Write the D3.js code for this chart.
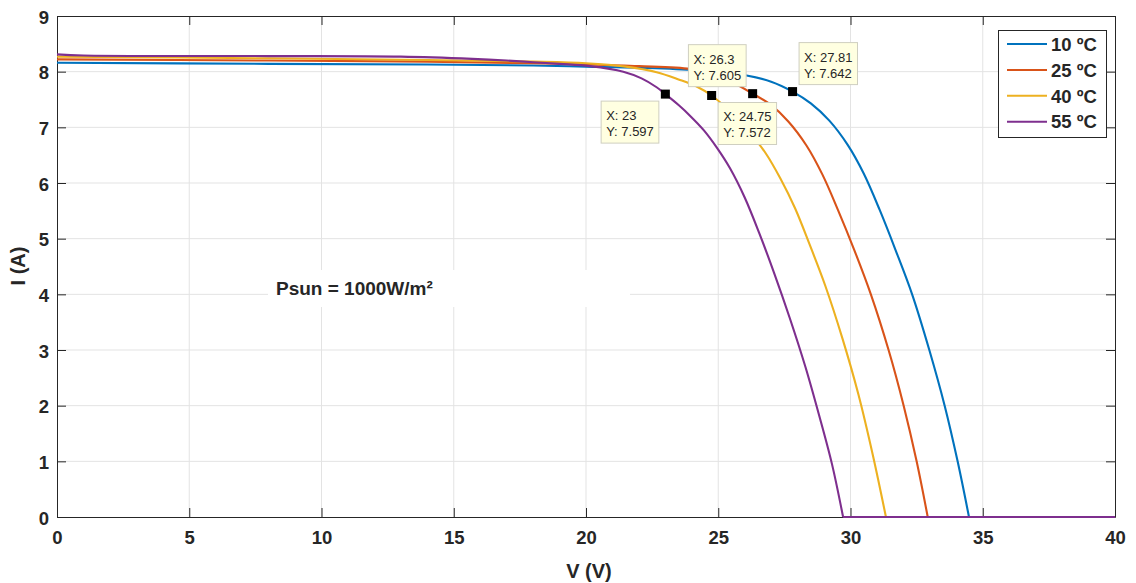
<!DOCTYPE html>
<html>
<head>
<meta charset="utf-8">
<script src="https://cdn.jsdelivr.net/npm/d3@7"></script>
<style>
  html, body { margin: 0; padding: 0; background: #fff; }
  svg { display: block; }
  text { font-family: "Liberation Sans", Arial, Helvetica, sans-serif; fill: #262626; }
</style>
</head>
<body>
<svg id="chart" width="1136" height="583"></svg>
<script>
// I-V characteristic of a PV module at 1000 W/m² for four cell temperatures.
const seriesNames = ["10 ºC", "25 ºC", "40 ºC", "55 ºC"];

// [V, I] samples for each temperature
const curve10 = [[0, 8.16], [8, 8.14], [14, 8.13], [18, 8.11], [20, 8.09], [22, 8.07], [24, 8.03], [25, 7.99],
  [26.07, 7.93], [27.0, 7.82], [27.81, 7.642], [28.5, 7.43], [29.2, 7.12], [29.9, 6.68], [30.5, 6.17],
  [31.1, 5.52], [31.7, 4.8], [32.33, 4.0], [32.98, 3.0], [33.56, 2.0], [34.05, 1.0], [34.48, 0], [40, 0]];
const curve25 = [[0, 8.22], [8, 8.20], [14, 8.18], [18, 8.15], [20, 8.13], [22, 8.10], [23.93, 8.05], [24.6, 7.98],
  [25.4, 7.84], [26.3, 7.605], [26.94, 7.42], [27.64, 7.11], [28.34, 6.67], [28.94, 6.15], [29.54, 5.5],
  [30.14, 4.8], [30.77, 4.0], [31.44, 3.0], [32.01, 2.0], [32.5, 1.0], [32.92, 0], [40, 0]];
const curve40 = [[0, 8.27], [8, 8.24], [14, 8.21], [18, 8.18], [20, 8.15], [21.5, 8.09], [22.67, 7.99],
  [23.5, 7.86], [24.2, 7.73], [24.75, 7.572], [25.57, 7.23], [26.2, 6.9], [26.8, 6.53], [27.35, 6.08],
  [27.9, 5.55], [28.45, 4.9], [29.05, 4.15], [29.7, 3.2], [30.3, 2.2], [30.85, 1.1], [31.34, 0], [40, 0]];
const curve55 = [[0, 8.31], [1, 8.29], [8, 8.28], [13, 8.27], [15.7, 8.23], [17, 8.20], [18, 8.17], [19, 8.14],
  [20.15, 8.10], [21.41, 8.0], [22.1, 7.88], [22.67, 7.72], [23.0, 7.597], [23.5, 7.40], [23.93, 7.21],
  [24.45, 6.95], [24.94, 6.64], [25.45, 6.26], [26.0, 5.74], [26.55, 5.1], [27.1, 4.4], [27.7, 3.58],
  [28.3, 2.69], [28.8, 1.85], [29.3, 0.95], [29.72, 0], [40, 0]];

// Data tips
const tipV = [23, 24.75, 26.3, 27.81];
const tipI = [7.597, 7.572, 7.605, 7.642];

const vTicks = [0, 5, 10, 15, 20, 25, 30, 35, 40];
const iTicks = [0, 1, 2, 3, 4, 5, 6, 7, 8, 9];

const colors = ["#0072BD", "#D95319", "#EDB120", "#7E2F8E"];
const curves = [curve10, curve25, curve40, curve55];

const svg = d3.select("#chart");
const L = 57, R = 1115, T = 16, B = 517;
const x = d3.scaleLinear().domain([0, 40]).range([L, R]);
const y = d3.scaleLinear().domain([0, 9]).range([B, T]);
const axisColor = "#262626";

// grid
const grid = svg.append("g");
grid.selectAll("line.gx").data(vTicks.slice(1, -1)).join("line")
  .attr("x1", d => x(d)).attr("x2", d => x(d)).attr("y1", T).attr("y2", B)
  .attr("stroke", "#e3e3e3").attr("stroke-width", 1);
grid.selectAll("line.gy").data(iTicks.slice(1, -1)).join("line")
  .attr("x1", L).attr("x2", R).attr("y1", d => y(d)).attr("y2", d => y(d))
  .attr("stroke", "#e3e3e3").attr("stroke-width", 1);

// white background behind the irradiance note
svg.append("rect").attr("x", 268).attr("y", 270).attr("width", 362).attr("height", 37).attr("fill", "#fff");
svg.append("text").attr("x", 276).attr("y", 295)
  .attr("font-size", 19).attr("font-weight", "bold").text("Psun = 1000W/m²");

// axes with inward ticks on all four sides
const tl = 9;
const axB = svg.append("g").attr("transform", `translate(0,${B})`)
  .call(d3.axisBottom(x).tickValues(vTicks).tickSizeInner(-tl).tickSizeOuter(0).tickPadding(14));
const axT = svg.append("g").attr("transform", `translate(0,${T})`)
  .call(d3.axisTop(x).tickValues(vTicks).tickSizeInner(-tl).tickSizeOuter(0).tickFormat(""));
const axL = svg.append("g").attr("transform", `translate(${L},0)`)
  .call(d3.axisLeft(y).tickValues(iTicks).tickSizeInner(-tl).tickSizeOuter(0).tickPadding(8));
const axR = svg.append("g").attr("transform", `translate(${R},0)`)
  .call(d3.axisRight(y).tickValues(iTicks).tickSizeInner(-tl).tickSizeOuter(0).tickFormat(""));
[axB, axT, axL, axR].forEach(a => {
  a.select(".domain").attr("stroke", axisColor).attr("stroke-width", 1);
  a.selectAll(".tick line").attr("stroke", axisColor);
  a.selectAll(".tick text").attr("fill", axisColor).attr("font-size", 18.5).attr("font-weight", "bold")
    .attr("font-family", "Liberation Sans, Arial, sans-serif");
});
axL.selectAll(".tick text").attr("dy", "0.38em");

// curves: knee part smooth, open-circuit tail straight along zero
const smooth = d3.line().x(d => x(d[0])).y(d => y(d[1])).curve(d3.curveCatmullRom.alpha(0.5));
const straight = d3.line().x(d => x(d[0])).y(d => y(d[1]));
const plot = svg.append("g");
curves.forEach((c, k) => {
  const idx = c.findIndex(p => p[1] === 0);
  plot.append("path").attr("d", smooth(c.slice(0, idx + 1)))
    .attr("fill", "none").attr("stroke", colors[k]).attr("stroke-width", 2.1);
  plot.append("path").attr("d", straight(c.slice(idx)))
    .attr("fill", "none").attr("stroke", colors[k]).attr("stroke-width", 2.2);
});

// data tips
const tipSide = [[-1, 1], [1, 1], [-1, -1], [1, -1]]; // [horizontal, vertical] placement
const tips = svg.append("g");
tipV.forEach((v, k) => {
  const mx = x(v), my = y(tipI[k]);
  const g = tips.append("g");
  const rect = g.append("rect").attr("fill", "#ffffe1").attr("stroke", "#cfcfc0").attr("stroke-width", 1);
  const t1 = g.append("text").attr("font-size", 13).text(`X: ${v}`);
  const t2 = g.append("text").attr("font-size", 13).text(`Y: ${tipI[k]}`);
  const w = Math.max(t1.node().getComputedTextLength(), t2.node().getComputedTextLength()) + 10;
  const h = 42;
  const [sx, sy] = tipSide[k];
  const left = sx < 0 ? mx - 6.5 - w : mx + 6.5;
  const top = sy > 0 ? my + 7 : my - 7 - h;
  rect.attr("x", left).attr("y", top).attr("width", w).attr("height", h);
  t1.attr("x", left + 5).attr("y", top + 19);
  t2.attr("x", left + 5).attr("y", top + 35);
  tips.append("rect").attr("x", mx - 4.5).attr("y", my - 4.5).attr("width", 9).attr("height", 9).attr("fill", "#000");
});

// axis labels
svg.append("text").attr("x", x(20) + 3).attr("y", 578).attr("text-anchor", "middle")
  .attr("font-size", 20).attr("font-weight", "bold").text("V (V)");
svg.append("text").attr("transform", `translate(25,${266}) rotate(-90)`).attr("text-anchor", "middle")
  .attr("font-size", 20).attr("font-weight", "bold").text("I (A)");

// legend
const lg = svg.append("g");
lg.append("rect").attr("x", 998.5).attr("y", 30.5).attr("width", 108).attr("height", 107)
  .attr("fill", "#fff").attr("stroke", axisColor).attr("stroke-width", 1);
seriesNames.forEach((n, k) => {
  const yy = 44 + k * 25.9;
  lg.append("line").attr("x1", 1007).attr("x2", 1047).attr("y1", yy).attr("y2", yy)
    .attr("stroke", colors[k]).attr("stroke-width", 2);
  lg.append("text").attr("x", 1051).attr("y", yy + 6.7).attr("font-size", 18.5).attr("font-weight", "bold").text(n);
});
</script>
</body>
</html>
